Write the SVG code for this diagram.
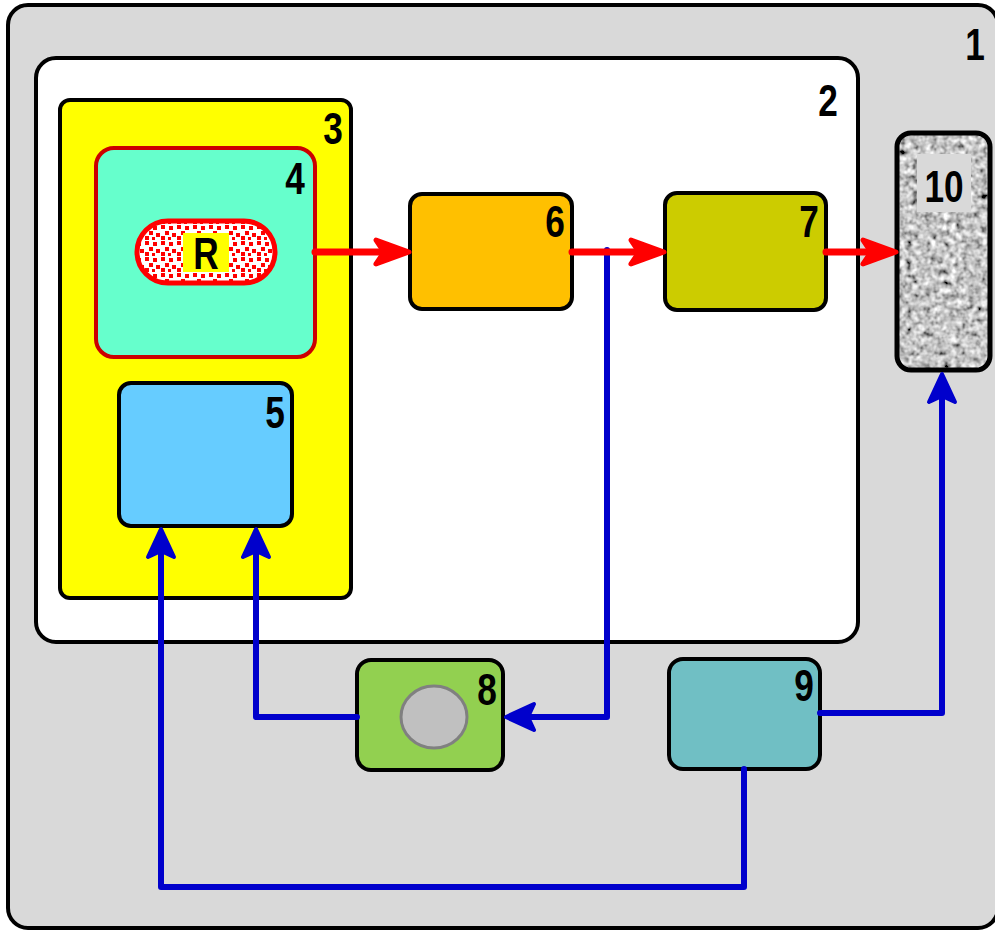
<svg xmlns="http://www.w3.org/2000/svg" width="995" height="931" viewBox="0 0 995 931">
  <style>
    .box { stroke: #000; stroke-width: 4; }
    .num { font-family: "Liberation Sans", Arial, sans-serif; font-weight: bold; font-size: 44px; fill: #000; text-anchor: middle; }
    .red { fill: none; stroke: #ff0000; stroke-width: 7; stroke-linecap: round; stroke-linejoin: round; }
    .blue { fill: none; stroke: #0000cc; stroke-width: 6; stroke-linecap: round; stroke-linejoin: round; }
    .rhead { fill: #ff0000; stroke: #ff0000; stroke-width: 5; stroke-linejoin: round; }
    .bhead { fill: #0000cc; stroke: #0000cc; stroke-width: 4; stroke-linejoin: round; }
  </style>
  <defs>
    <pattern id="dots" width="16" height="16" patternUnits="userSpaceOnUse">
      <rect width="16" height="16" fill="#ffffff"/>
      <rect x="1" y="1" width="4" height="4" fill="#ff0000"/>
      <rect x="9" y="2" width="4" height="4" fill="#ff0000"/>
      <rect x="5" y="7" width="4" height="4" fill="#ff0000"/>
      <rect x="12" y="9" width="4" height="4" fill="#ff0000"/>
      <rect x="1" y="12" width="4" height="4" fill="#ff0000"/>
      <rect x="8" y="13" width="3" height="3" fill="#ff0000"/>
    </pattern>
    <!-- granite-like grey texture -->
    <filter id="grain" x="0" y="0" width="100%" height="100%">
      <feTurbulence type="fractalNoise" baseFrequency="0.16" numOctaves="2" seed="7" result="n"/>
      <feColorMatrix in="n" type="matrix" values="1.05 1.05 0 0 -0.5  1.05 1.05 0 0 -0.5  1.05 1.05 0 0 -0.5  0 0 0 0 1" result="g"/>
      <feGaussianBlur in="g" stdDeviation="0.6" result="b"/>
      <feComposite in="b" in2="SourceGraphic" operator="in"/>
    </filter>
    <clipPath id="clip10">
      <rect x="897" y="133" width="93" height="237" rx="14"/>
    </clipPath>
  </defs>

  <!-- outer container -->
  <g id="node1">
    <rect class="box" x="8" y="5" width="990" height="923" rx="20" fill="#d9d9d9"/>
    <text class="num" transform="translate(975 60) scale(0.8 1)">1</text>
  </g>

  <g id="node2">
    <rect class="box" x="36" y="58" width="822" height="584" rx="20" fill="#ffffff"/>
    <text class="num" transform="translate(828 116) scale(0.8 1)">2</text>
  </g>

  <g id="node3">
    <rect class="box" x="60" y="100" width="291" height="498" rx="10" fill="#ffff00"/>
    <text class="num" transform="translate(333 144) scale(0.8 1)">3</text>
  </g>

  <g id="node4">
    <rect x="96" y="148" width="219" height="209" rx="18" fill="#66ffcc" stroke="#cc0000" stroke-width="4"/>
    <text class="num" transform="translate(295 194) scale(0.8 1)">4</text>
  </g>

  <g id="nodeR">
    <rect x="137" y="221" width="138" height="62" rx="31" fill="url(#dots)" stroke="#ff0000" stroke-width="5"/>
    <rect x="183" y="233" width="46" height="39" fill="#ffff00"/>
    <text class="num" transform="translate(206 269) scale(0.8 1)">R</text>
  </g>

  <g id="node5">
    <rect class="box" x="119" y="383" width="173" height="143" rx="12" fill="#66ccff"/>
    <text class="num" transform="translate(275 428) scale(0.8 1)">5</text>
  </g>

  <g id="node6">
    <rect class="box" x="410" y="194" width="162" height="115" rx="12" fill="#ffc000"/>
    <text class="num" transform="translate(555 237) scale(0.8 1)">6</text>
  </g>

  <g id="node7">
    <rect class="box" x="665" y="193" width="161" height="117" rx="12" fill="#cccc00"/>
    <text class="num" transform="translate(809 237) scale(0.8 1)">7</text>
  </g>

  <g id="node10">
    <rect x="897" y="133" width="93" height="237" rx="14" fill="#a0a0a0"/>
    <rect x="897" y="133" width="93" height="237" fill="#a0a0a0" filter="url(#grain)" clip-path="url(#clip10)"/>
    <rect x="897" y="133" width="93" height="237" rx="14" fill="none" stroke="#000" stroke-width="5"/>
    <rect x="917" y="154" width="54" height="58" fill="#d9d9d9"/>
    <text class="num" transform="translate(944 202) scale(0.8 1)">10</text>
  </g>

  <g id="node8">
    <rect class="box" x="357" y="660" width="146" height="110" rx="14" fill="#92d050"/>
    <ellipse cx="434" cy="717" rx="33" ry="31" fill="#c0c0c0" stroke="#808080" stroke-width="3"/>
    <text class="num" transform="translate(487 705) scale(0.8 1)">8</text>
  </g>

  <g id="node9">
    <rect class="box" x="669" y="659" width="151" height="110" rx="14" fill="#70bfc4"/>
    <text class="num" transform="translate(804 701) scale(0.8 1)">9</text>
  </g>

  <!-- connectors -->
  <g id="connectors">
    <!-- blue feedback lines -->
    <path class="blue" d="M607 250 V717 H530"/>
    <path class="bhead" d="M506 717 L534 704 L528 717 L534 730 Z"/>

    <path class="blue" d="M357 717 H256 V550"/>
    <path class="bhead" d="M256 529 L243 557 L256 551 L269 557 Z"/>

    <path class="blue" d="M744 769 V887 H161 V550"/>
    <path class="bhead" d="M161 529 L148 557 L161 551 L174 557 Z"/>

    <path class="blue" d="M820 713 H942 V396"/>
    <path class="bhead" d="M942 374 L929 402 L942 396 L955 402 Z"/>

    <!-- red flow lines -->
    <path class="red" d="M315 252 H385"/>
    <path class="rhead" d="M409 252 L376 240 L384 252 L376 264 Z"/>

    <path class="red" d="M572 252 H640"/>
    <path class="rhead" d="M664 252 L631 240 L639 252 L631 264 Z"/>

    <path class="red" d="M826 252 H872"/>
    <path class="rhead" d="M896 252 L863 240 L871 252 L863 264 Z"/>
  </g>
</svg>
